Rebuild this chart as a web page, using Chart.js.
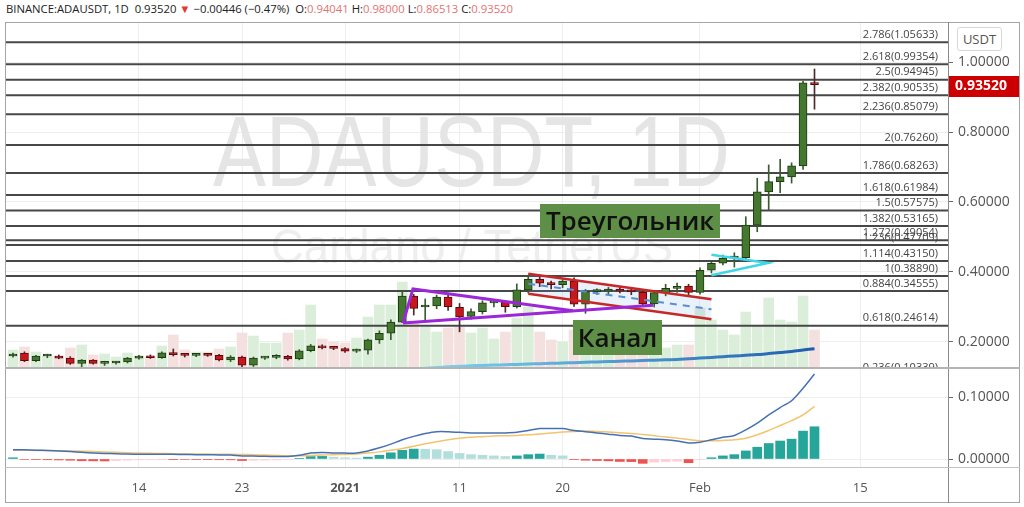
<!DOCTYPE html>
<html>
<head>
<meta charset="utf-8">
<script src="https://cdn.jsdelivr.net/npm/chart.js@4.4.0/dist/chart.umd.min.js"></script>
<style>
html, body { margin: 0; padding: 0; background: #fff; }
body { width: 1024px; height: 507px; position: relative; overflow: hidden; font-family: 'Open Sans', sans-serif; }
#hdr { position: absolute; left: 6px; top: 1px; font-size: 11.3px; color: #222; white-space: nowrap; }
#hdr .v { color: #e57373; }
#hdr .dn { color: #e53935; }
canvas { position: absolute; }
#main { left: 5px; top: 22px; }
#macd { left: 5px; top: 369px; }
.ln { position: absolute; }
#usdt { position: absolute; left: 957px; top: 27px; width: 45px; height: 24px; border: 1px solid #d8d8d8; border-radius: 3px;
        box-sizing: border-box; font-size: 13px; color: #555; text-align: center; line-height: 22px; background: #fff; }
.note { position: absolute; background: #5e8f46; color: #111; font-size: 26px; font-weight: 600; text-align: center; box-sizing: border-box; white-space: nowrap; }
</style>
</head>
<body>
<div id="hdr">BINANCE:ADAUSDT, 1D&nbsp; 0.93520 <span class="dn">&#9660;</span> &minus;0.00446 (&minus;0.47%)&nbsp; O:<span class="v">0.94041</span> H:<span class="v">0.98000</span> L:<span class="v">0.86513</span> C:<span class="v">0.93520</span></div>
<canvas id="main" width="1015" height="346"></canvas>
<canvas id="macd" width="1015" height="134"></canvas>
<div class="ln" style="left:5px;top:22px;width:1015px;height:481px;border:1px solid #a5a5a5;box-sizing:border-box;"></div>
<div class="ln" style="left:948px;top:22px;width:1px;height:481px;background:#8a8a8a;"></div>
<div class="ln" style="left:5px;top:367px;width:1015px;height:2px;background:#b3b3b3;"></div>
<div class="ln" style="left:5px;top:467px;width:1015px;height:1px;background:#c4c4c4;"></div>
<div id="usdt">USDT</div>
<div class="note" style="left:540px;top:204px;width:180px;height:34px;line-height:33px;">Треугольник</div>
<div class="note" style="left:573px;top:320px;width:89px;height:35px;line-height:34px;">Канал</div>
<script>
// daily candles, 3 Dec 2020 .. 11 Feb 2021 (index 0..70)
const open = [.160,.168,.147,.160,.160,.154,.139,.148,.139,.140,
  .143,.154,.160,.155,.170,.164,.162,.163,.162,.149,
  .157,.134,.154,.156,.159,.152,.175,.189,.183,.181,
  .174,.177,.206,.225,.257,.331,.300,.303,.328,.299,
  .273,.287,.312,.313,.301,.349,.379,.368,.364,.374,
  .308,.344,.345,.351,.345,.342,.309,.341,.353,.360,
  .342,.405,.425,.440,.441,.534,.629,.658,.672,.703,.94041];
const high = [.168,.172,.162,.165,.163,.158,.150,.150,.145,.145,
  .156,.162,.163,.172,.180,.167,.166,.166,.165,.161,
  .160,.157,.158,.164,.162,.178,.193,.192,.186,.184,
  .180,.208,.232,.263,.344,.336,.323,.334,.336,.310,
  .295,.318,.318,.317,.366,.391,.389,.374,.378,.383,
  .350,.352,.356,.357,.352,.348,.346,.365,.368,.365,
  .412,.432,.448,.455,.558,.668,.706,.722,.712,.945,.98];
const low = [.157,.144,.144,.155,.152,.136,.128,.137,.133,.137,
  .140,.151,.153,.153,.160,.157,.158,.159,.146,.144,
  .128,.130,.150,.152,.148,.149,.172,.180,.178,.170,
  .170,.165,.196,.207,.255,.277,.263,.295,.290,.229,
  .265,.280,.300,.285,.297,.340,.358,.352,.355,.302,
  .282,.336,.338,.340,.335,.303,.300,.332,.342,.330,
  .337,.397,.420,.414,.438,.515,.577,.627,.654,.693,.86513];
const close = [.165,.147,.160,.161,.154,.139,.148,.139,.141,.143,
  .154,.160,.155,.169,.164,.162,.163,.162,.149,.157,
  .134,.154,.156,.158,.152,.175,.189,.183,.182,.174,
  .177,.206,.225,.257,.331,.296,.302,.328,.301,.272,
  .287,.312,.313,.301,.349,.379,.368,.364,.374,.308,
  .344,.345,.351,.345,.343,.309,.341,.353,.359,.342,
  .405,.425,.440,.441,.534,.629,.658,.672,.703,.9404,.9352];
// volume, millions ADA
const volume = [180,210,160,120,120,200,230,130,140,110,
  150,120,110,220,330,180,160,160,190,210,
  350,320,250,250,350,380,630,290,260,250,
  300,510,630,630,860,460,410,360,400,410,
  350,400,290,360,500,610,360,280,260,380,
  350,310,260,280,240,310,300,200,230,230,
  600,480,380,330,560,430,700,480,460,720,380];
// moving average (blue curve at the bottom of the price pane)
const maLine = [null,null,null,null,null,null,null,null,null,null,
  null,null,null,null,null,null,null,null,null,null,
  null,null,null,null,null,null,null,null,.114,.115,
  .116,.117,.118,.119,.121,.123,.125,.127,.129,.131,
  .132,.133,.134,.135,.136,.137,.138,.139,.140,.141,
  .142,.143,.144,.145,.146,.147,.148,.149,.150,.152,
  .154,.156,.158,.160,.162,.164,.167,.170,.173,.177,.181];
// MACD pane
const macdLine = [.0150,.0148,.0143,.0137,.0130,.0120,.0108,.0098,.0090,.0084,
  .0080,.0077,.0076,.0078,.0075,.0072,.0070,.0068,.0066,.0063,
  .0050,.0047,.0043,.0041,.0042,.0060,.0095,.0105,.0098,.0095,
  .0098,.0130,.0180,.0240,.0310,.0365,.0410,.0440,.0440,.0430,
  .0420,.0420,.0420,.0420,.0430,.0460,.0490,.0490,.0490,.0460,
  .0440,.0420,.0400,.0380,.0370,.0330,.0320,.0310,.0290,.0260,
  .0270,.0310,.0350,.0380,.0470,.0580,.0710,.0830,.0940,.1140,.1370];
const signalLine = [.0140,.0140,.0139,.0137,.0135,.0131,.0126,.0120,.0113,.0107,
  .0101,.0096,.0092,.0089,.0086,.0083,.0081,.0079,.0077,.0075,
  .0073,.0068,.0063,.0058,.0054,.0054,.0058,.0064,.0069,.0074,
  .0080,.0095,.0115,.0140,.0170,.0205,.0245,.0280,.0310,.0335,
  .0350,.0360,.0370,.0375,.0380,.0390,.0405,.0420,.0435,.0445,
  .0450,.0445,.0435,.0425,.0410,.0395,.0375,.0355,.0335,.0315,
  .0295,.0295,.0300,.0310,.0335,.0390,.0460,.0540,.0620,.0710,.0850];
const hist = [.002,-.0008,-.001,-.0012,-.0015,-.002,-.0028,-.003,-.0032,-.0025,
  -.0018,-.0012,-.0008,-.0003,-.0005,-.0008,-.001,-.0011,-.0012,-.0013,
  -.0025,-.002,-.0018,-.0015,-.001,.001,.004,.0042,.003,.002,
  .0015,.003,.006,.010,.014,.016,.0158,.015,.012,.009,
  .007,.006,.005,.004,.005,.007,.008,.006,.005,-.001,
  -.002,-.0025,-.003,-.004,-.0042,-.007,-.005,-.004,-.0035,-.006,
  -.001,.002,.005,.007,.013,.019,.025,.029,.032,.045,.052];
// fibonacci extension levels
const fibRatios = ['2.786','2.618','2.5','2.382','2.236','2','1.786','1.618','1.5','1.382','1.272','1.236','1.114','1','0.884','0.618','0.236'];
const fibPrices = [1.05633,0.99354,0.94945,0.90535,0.85079,0.76260,0.68263,0.61984,0.57575,0.53165,0.49054,0.47709,0.43150,0.38890,0.34555,0.24614,0.10339];
// drawings: [day index, price]
const triangle = [[34.06,0.254],[34.93,0.3514],[48.9,0.2894]];
const triangleBase = [[34.06,0.254],[55.9,0.3049]];
const channelTop = [[45.0,0.3951],[61.0,0.3220]];
const channelMid = [[45.0,0.3666],[61.0,0.2934]];
const channelBot = [[45.0,0.3381],[61.0,0.2648]];
const pennant = [[61.0,0.4494],[65.94,0.4257],[61.0,0.3906]];
// axes
const tickIdx = [11,20,29,39,48,60,74];
const tickLabels = ['14','23','2021','11','20','Feb','15'];
const priceTicks = [0.2,0.4,0.6,0.8,1.0];
const macdTicks = [0,0.1];

const xMin = -0.699, xMax = 81.66;
const N = close.length;
const idx = close.map((_, i) => i);
const up = close.map((c, i) => c >= open[i]);
const pts = a => a.map(p => ({x: p[0], y: p[1]}));

const gridColor = '#eeeeee';
const tickFont = {family: "'Open Sans', sans-serif", size: 14};
const noPad = s => { s.paddingTop = 0; s.paddingBottom = 0; s.paddingLeft = 0; s.paddingRight = 0; };

function lineSet(data, color, width, order, extra) {
  return Object.assign({type: 'line', data: pts(data), borderColor: color, borderWidth: width,
    pointRadius: 0, tension: 0, fill: false, order: order, yAxisID: 'y'}, extra || {});
}

const mainDeco = {
  id: 'mainDeco',
  beforeDatasetsDraw(chart) {
    const c = chart.ctx;
    c.save();
    c.textBaseline = 'alphabetic';
    c.font = '100px "Liberation Sans"';
    c.fillStyle = '#e5e5e5';
    let t = 'ADAUSDT, 1D';
    let w = c.measureText(t).width;
    c.translate(208, 164); c.scale(517 / w, 1); c.fillText(t, 0, 0);
    c.restore();
    c.save();
    c.font = '48px "Liberation Sans"';
    c.fillStyle = '#eeeeee';
    t = 'Cardano / TetherUS';
    w = c.measureText(t).width;
    c.translate(266, 241); c.scale(402 / w, 1); c.fillText(t, 0, 0);
    c.restore();
  },
  afterDatasetsDraw(chart) {
    const c = chart.ctx, a = chart.chartArea, ys = chart.scales.y;
    c.save();
    c.beginPath(); c.rect(a.left, a.top, a.right - a.left, a.bottom - a.top); c.clip();
    c.font = '11px "Open Sans"';
    c.fillStyle = '#444';
    c.textAlign = 'right';
    c.textBaseline = 'bottom';
    fibRatios.forEach((r, k) => {
      const y = ys.getPixelForValue(fibPrices[k]);
      c.fillText(r + '(' + fibPrices[k].toFixed(5) + ')', a.right - 10, y - 2);
    });
    c.restore();
  },
  afterDraw(chart) {
    const c = chart.ctx, a = chart.chartArea, ys = chart.scales.y;
    const y = ys.getPixelForValue(close[N - 1]);
    c.save();
    c.fillStyle = '#cc0000';
    c.fillRect(a.right, Math.round(y) - 9, chart.width - a.right, 21);
    c.fillStyle = '#fff';
    c.font = 'bold 14px "Open Sans"';
    c.textBaseline = 'middle';
    c.fillText(close[N - 1].toFixed(5), a.right + 7, Math.round(y) + 1.5);
    c.restore();
  }
};

const datasets = [
  // drawings on top
  lineSet(triangle, '#9c27d8', 3, 0),
  lineSet(triangleBase, '#9c27d8', 3, 0),
  lineSet(pennant, '#3fd6e8', 2.5, 0),
  lineSet(channelTop, '#c62828', 2.5, 0),
  lineSet(channelBot, '#c62828', 2.5, 0),
  lineSet(channelMid, '#5b8fd1', 2, 0, {borderDash: [7, 6]}),
  // channel background
  lineSet(channelTop, 'rgba(0,0,0,0)', 0, 3, {fill: '+1', backgroundColor: 'rgba(120,170,225,0.16)'}),
  lineSet(channelBot, 'rgba(0,0,0,0)', 0, 3),
  // candle bodies and wicks
  {type: 'bar', data: idx.map(i => ({x: i, y: [open[i], close[i]]})), yAxisID: 'y', order: 1,
   backgroundColor: up.map(u => u ? '#44782f' : '#c8161d'), borderColor: up.map(u => u ? '#1d3a12' : '#5a0909'),
   borderWidth: 1, borderSkipped: false, barThickness: 8, grouped: false, minBarLength: 2},
  {type: 'bar', data: idx.map(i => ({x: i, y: [low[i], high[i]]})), yAxisID: 'y', order: 2,
   backgroundColor: up.map(u => u ? '#3c5a30' : '#4a2a2a'), borderWidth: 0, barThickness: 1, grouped: false},
];
fibPrices.forEach(p => {
  datasets.push(lineSet([[xMin, p], [xMax, p]], '#474747', 2, 5));
});
datasets.push({type: 'line', data: idx.map(i => ({x: i, y: maLine[i]})), yAxisID: 'y', order: 6,
  pointRadius: 0, borderWidth: 3, tension: 0.3, fill: false, spanGaps: false,
  borderColor: ctx => {
    const ch = ctx.chart;
    if (!ch.chartArea) return '#2a78c8';
    const xs = ch.scales.x;
    const g = ch.ctx.createLinearGradient(xs.getPixelForValue(36), 0, xs.getPixelForValue(70), 0);
    g.addColorStop(0, '#7fd6f2');
    g.addColorStop(1, '#1f5cb0');
    return g;
  }});
datasets.push({type: 'bar', data: idx.map(i => ({x: i, y: volume[i]})), yAxisID: 'yv', order: 10,
  backgroundColor: up.map(u => u ? '#dbeeda' : '#f5e0e0'), borderWidth: 0, barThickness: 10, grouped: false});

new Chart(document.getElementById('main'), {
  type: 'bar',
  data: {datasets: datasets},
  options: {
    responsive: false, animation: false, events: [],
    layout: {padding: 0, autoPadding: false},
    plugins: {legend: {display: false}, tooltip: {enabled: false}},
    scales: {
      x: {type: 'linear', min: xMin, max: xMax, position: 'bottom', offset: false,
          afterBuildTicks: s => { s.ticks = tickIdx.map(v => ({value: v})); },
          afterFit: s => { s.height = 0; noPad(s); },
          ticks: {display: false}, grid: {color: gridColor, drawTicks: false, offset: false}, border: {display: false}},
      y: {type: 'linear', position: 'right', min: 0.12571, max: 1.11429,
          afterBuildTicks: s => { s.ticks = priceTicks.map(v => ({value: v})); },
          afterFit: s => { s.width = 72; noPad(s); },
          ticks: {callback: v => v.toFixed(5), color: '#555', font: tickFont, padding: 5},
          grid: {color: gridColor, tickLength: 5, tickColor: '#666'}, border: {display: false}},
      yv: {type: 'linear', display: false, min: 0, max: 3460}
    }
  },
  plugins: [mainDeco]
});

const histColors = hist.map((h, i) => {
  const prev = i > 0 ? hist[i - 1] : 0;
  if (h >= 0) return h >= prev ? '#26a69a' : '#b2dfdb';
  return h < prev ? '#ef5350' : '#ffcdd2';
});

new Chart(document.getElementById('macd'), {
  type: 'bar',
  data: {datasets: [
    {type: 'line', data: idx.map(i => ({x: i, y: macdLine[i]})), borderColor: '#4670b4', borderWidth: 1.5,
     pointRadius: 0, tension: 0.3, order: 0},
    {type: 'line', data: idx.map(i => ({x: i, y: signalLine[i]})), borderColor: '#f2c46d', borderWidth: 1.5,
     pointRadius: 0, tension: 0.3, order: 1},
    {type: 'bar', data: idx.map(i => ({x: i, y: hist[i]})), backgroundColor: histColors,
     borderWidth: 0, barThickness: 9, grouped: false, order: 2}
  ]},
  options: {
    responsive: false, animation: false, events: [],
    layout: {padding: 0, autoPadding: false},
    plugins: {legend: {display: false}, tooltip: {enabled: false}},
    scales: {
      x: {type: 'linear', min: xMin, max: xMax, position: 'bottom', offset: false,
          afterBuildTicks: s => { s.ticks = tickIdx.map(v => ({value: v})); },
          afterFit: s => { s.height = 36; noPad(s); },
          ticks: {callback: (v, k) => tickLabels[k], color: '#555', padding: 13, autoSkip: false, maxRotation: 0,
                  font: c => ({family: "'Open Sans', sans-serif", size: 13, weight: (c.tick && c.tick.value === 29) ? 'bold' : 'normal'})},
          grid: {color: gridColor, drawTicks: false, offset: false}, border: {display: false}},
      y: {type: 'linear', position: 'right', min: -0.0129, max: 0.14516,
          afterBuildTicks: s => { s.ticks = macdTicks.map(v => ({value: v})); },
          afterFit: s => { s.width = 72; noPad(s); },
          ticks: {callback: v => v.toFixed(5), color: '#555', font: tickFont, padding: 5},
          grid: {color: gridColor, tickLength: 5, tickColor: '#666'}, border: {display: false}}
    }
  }
});
</script>
</body>
</html>
